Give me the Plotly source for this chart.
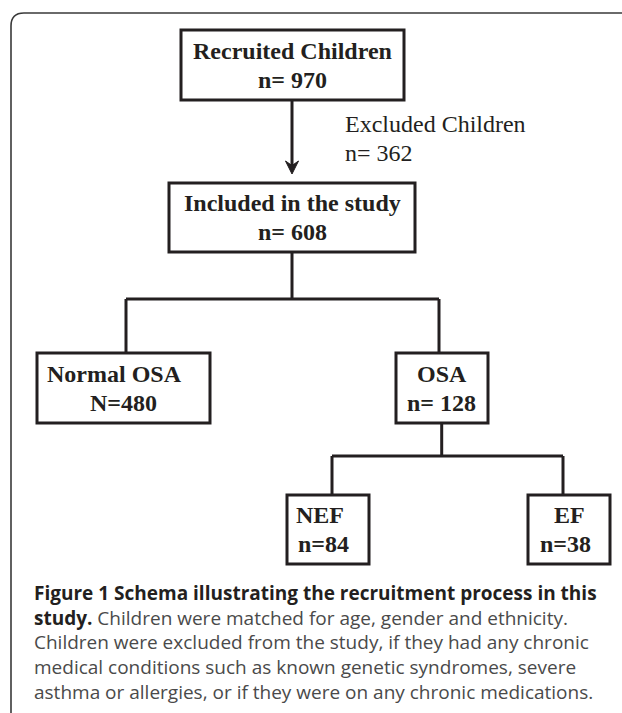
import plotly.graph_objects as go

# ---------------- data ----------------
node_titles = ["Recruited Children", "Included in the study", "Normal OSA", "OSA", "NEF", "EF"]
node_prefix = ["n= ", "n= ", "N=", "n= ", "n=", "n="]
node_counts = [970, 608, 480, 128, 84, 38]
excluded_title = "Excluded Children"
excluded_count = 362

caption_bold = ["Figure 1 Schema illustrating the recruitment process in this", "study."]
caption_regular = [
    " Children were matched for age, gender and ethnicity.",
    "Children were excluded from the study, if they had any chronic",
    "medical conditions such as known genetic syndromes, severe",
    "asthma or allergies, or if they were on any chronic medications.",
]

# ---------------- layout (pixel geometry) ----------------
W, H = 622, 713
INK = "#231f20"
# boxes: x0, x1, y0, y1
boxes = [
    (181, 404, 30, 100),
    (169, 415, 183, 252),
    (37, 210, 353, 423),
    (396, 488, 353, 423),
    (287, 369, 495, 564),
    (528, 610, 495, 564),
]
# text x-centres for (title line, count line) of each box
text_x = [(292.5, 292.5), (292.5, 292.5), (114, 123), (442, 441.5), (320, 323), (569, 565)]
LINE_GAP = 14.5

fig = go.Figure()

# invisible trace anchoring the node centres
cx = [(b[0] + b[1]) / 2 for b in boxes]
cy = [(b[2] + b[3]) / 2 for b in boxes]
fig.add_trace(go.Scatter(
    x=cx, y=cy, mode="markers", marker=dict(size=1, opacity=0),
    hovertext=[f"{t}: {c}" for t, c in zip(node_titles, node_counts)],
    hoverinfo="text", showlegend=False))

shapes = []
# outer rounded frame (open on the right / bottom)
shapes.append(dict(type="path", xref="x", yref="y",
                   path="M 11 720 L 11 26 Q 11 13 24 13 L 640 13",
                   line=dict(color="#3a3a3a", width=1.6)))


def seg(x0, y0, x1, y1):
    shapes.append(dict(type="line", xref="x", yref="y", x0=x0, y0=y0, x1=x1, y1=y1,
                       line=dict(color=INK, width=3)))


# arrow from box 0 to box 1
seg(292, boxes[0][3], 292, 166)
shapes.append(dict(type="path", xref="x", yref="y",
                   path="M 285.5 161 L 292 174 L 298.5 161 L 292 165.5 Z",
                   fillcolor=INK, line=dict(color=INK, width=1)))

# box 1 -> boxes 2 & 3
bus1_y = 299
drops1 = [126, 439]
seg(292, boxes[1][3], 292, bus1_y)
seg(drops1[0], bus1_y, drops1[1], bus1_y)
for dx in drops1:
    seg(dx, bus1_y, dx, boxes[2][2])

# box 3 -> boxes 4 & 5
bus2_y = 456
drops2 = [332, 563]
seg(441.7, boxes[3][3], 441.7, bus2_y)
seg(drops2[0], bus2_y, drops2[1], bus2_y)
for dx in drops2:
    seg(dx, bus2_y, dx, boxes[4][2])

# boxes
for (x0, x1, y0, y1) in boxes:
    shapes.append(dict(type="rect", xref="x", yref="y", x0=x0, x1=x1, y0=y0, y1=y1,
                       fillcolor="white", line=dict(color=INK, width=3)))

annotations = []
serif = "Liberation Serif"
for i, (x0, x1, y0, y1) in enumerate(boxes):
    mid = (y0 + y1) / 2
    annotations.append(dict(x=text_x[i][0], y=mid - LINE_GAP, xref="x", yref="y",
                            text=f"<b>{node_titles[i]}</b>", showarrow=False,
                            xanchor="center", yanchor="middle",
                            font=dict(family=serif, size=24, color=INK)))
    annotations.append(dict(x=text_x[i][1], y=mid + LINE_GAP, xref="x", yref="y",
                            text=f"<b>{node_prefix[i]}{node_counts[i]}</b>", showarrow=False,
                            xanchor="center", yanchor="middle",
                            font=dict(family=serif, size=24, color=INK)))

# excluded note
annotations.append(dict(x=343, y=124, xref="x", yref="y", text=excluded_title,
                        showarrow=False, xanchor="left", yanchor="middle",
                        font=dict(family=serif, size=24, color=INK)))
annotations.append(dict(x=343, y=153, xref="x", yref="y", text=f"n= {excluded_count}",
                        showarrow=False, xanchor="left", yanchor="middle",
                        font=dict(family=serif, size=24, color=INK)))

# caption (one multi-line text block)
cap_lines = [
    f"<b><span style='color:{INK}'>{caption_bold[0]}</span></b>",
    f"<b><span style='color:{INK}'>{caption_bold[1]}</span></b>{caption_regular[0]}",
    caption_regular[1],
    caption_regular[2],
    caption_regular[3],
]
annotations.append(dict(x=33, y=642, xref="x", yref="y", text="<br>".join(cap_lines),
                        showarrow=False, xanchor="left", yanchor="middle", align="left",
                        borderpad=0,
                        font=dict(family="Open Sans", size=19, color="#4a4a4a")))

fig.update_layout(
    width=W, height=H, margin=dict(l=0, r=0, t=0, b=0),
    paper_bgcolor="white", plot_bgcolor="white",
    xaxis=dict(range=[0, W], visible=False, fixedrange=True),
    yaxis=dict(range=[H, 0], visible=False, fixedrange=True),
    shapes=shapes, annotations=annotations, showlegend=False,
)

fig.write_html("out.html", config={"displayModeBar": False},
               post_script="document.body.style.margin='0px';document.body.style.overflow='hidden';")
